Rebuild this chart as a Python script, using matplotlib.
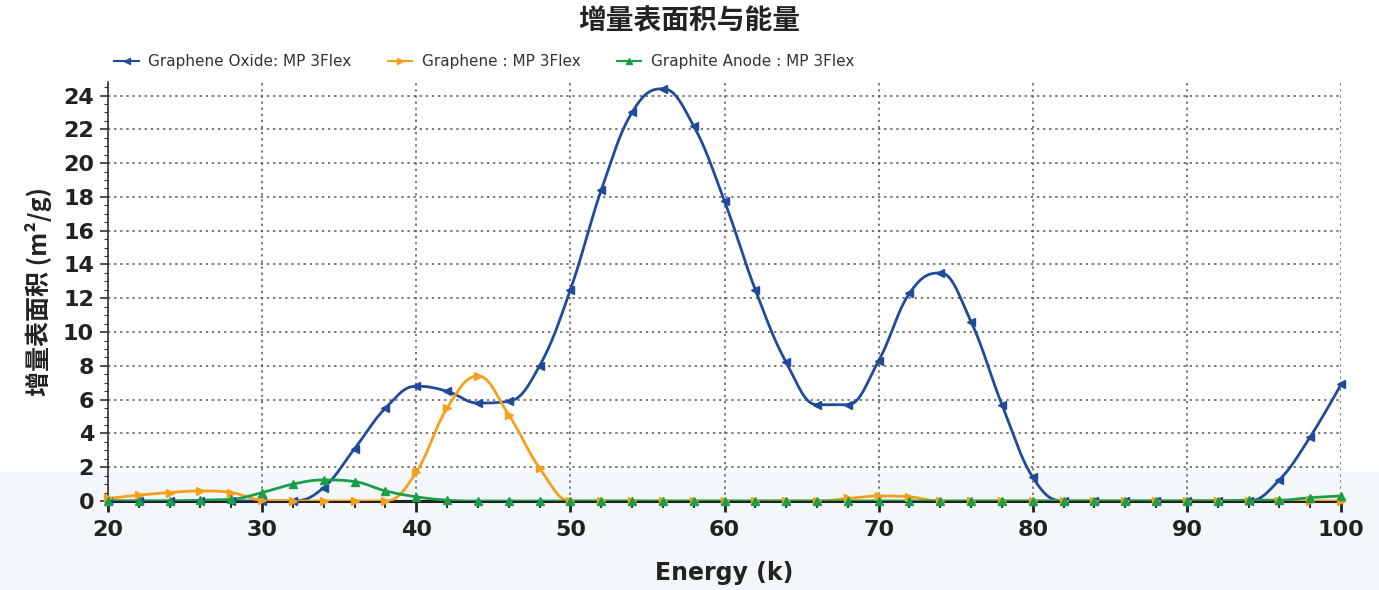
import numpy as np
import matplotlib
matplotlib.use("Agg")
import matplotlib.pyplot as plt
from matplotlib.patches import Rectangle
from matplotlib.ticker import MultipleLocator

plt.rcParams['font.family'] = ['DejaVu Sans', 'Noto Sans CJK SC']

energy = list(range(20, 101, 2))
graphene_oxide = [0, 0, 0, 0, 0, 0, 0, 0.8, 3.1, 5.5, 6.8, 6.5, 5.8, 5.9, 8.0, 12.5,
                  18.4, 23.0, 24.4, 22.2, 17.75, 12.5, 8.2, 5.7, 5.7, 8.3, 12.3, 13.5,
                  10.6, 5.7, 1.4, 0, 0, 0, 0, 0, 0, 0, 1.25, 3.8, 6.9]
graphene = [0.15, 0.35, 0.5, 0.6, 0.5, 0.05, 0, 0, 0, 0, 1.7, 5.5, 7.4, 5.1, 1.95, 0,
            0, 0, 0, 0, 0, 0, 0, 0, 0.15, 0.3, 0.25, 0, 0, 0, 0, 0, 0, 0, 0, 0,
            0, 0, 0, 0, 0]
graphite_anode = [0, 0, 0, 0.05, 0.1, 0.5, 1.0, 1.25, 1.15, 0.6, 0.25, 0.05, 0, 0, 0, 0,
                  0, 0, 0, 0, 0, 0, 0, 0, 0, 0, 0, 0, 0, 0, 0, 0, 0, 0, 0, 0,
                  0, 0.05, 0.05, 0.2, 0.3]
series_names = ["Graphene Oxide: MP 3Flex", "Graphene : MP 3Flex", "Graphite Anode : MP 3Flex"]
title = "增量表面积与能量"
x_label = "Energy (k)"
y_label = "增量表面积 (m²/g)"


def spline_path(xs, ys, n=24):
    """Highcharts-like spline smoothing of a series (display only)."""
    xs = np.asarray(xs, float)
    ys = np.asarray(ys, float)
    m = len(xs)
    lc = np.zeros((m, 2))
    rc = np.zeros((m, 2))
    for i in range(m):
        if i == 0 or i == m - 1:
            lc[i] = rc[i] = (xs[i], ys[i])
            continue
        x0, y0 = xs[i - 1], ys[i - 1]
        x1, y1 = xs[i], ys[i]
        x2, y2 = xs[i + 1], ys[i + 1]
        lx = (1.5 * x1 + x0) / 2.5
        ly = (1.5 * y1 + y0) / 2.5
        rx = (1.5 * x1 + x2) / 2.5
        ry = (1.5 * y1 + y2) / 2.5
        if rx != lx:
            corr = ((ry - ly) * (rx - x1)) / (rx - lx) + y1 - ry
            ly += corr
            ry += corr
        if ly > y0 and ly > y1:
            ly = max(y0, y1)
            ry = 2 * y1 - ly
        elif ly < y0 and ly < y1:
            ly = min(y0, y1)
            ry = 2 * y1 - ly
        if ry > y2 and ry > y1:
            ry = max(y1, y2)
            ly = 2 * y1 - ry
        elif ry < y2 and ry < y1:
            ry = min(y1, y2)
            ly = 2 * y1 - ry
        lc[i] = (lx, ly)
        rc[i] = (rx, ry)
    t = np.linspace(0, 1, n)[:, None]
    pts = []
    for i in range(m - 1):
        p0 = np.array([xs[i], ys[i]])
        p1 = rc[i]
        p2 = lc[i + 1]
        p3 = np.array([xs[i + 1], ys[i + 1]])
        seg = ((1 - t) ** 3) * p0 + 3 * ((1 - t) ** 2) * t * p1 + 3 * (1 - t) * t ** 2 * p2 + t ** 3 * p3
        pts.append(seg if i == 0 else seg[1:])
    pts = np.vstack(pts)
    return pts[:, 0], pts[:, 1]


fig = plt.figure(figsize=(13.79, 5.90), dpi=100)
fig.patch.set_facecolor("white")
fig.add_artist(Rectangle((0, 0), 1, 0.20, transform=fig.transFigure,
                         facecolor="#f3f7fa", edgecolor="none", zorder=-10))

ax = fig.add_axes([0.0783, 0.1508, 0.8942, 0.7102])
ax.patch.set_alpha(0)

colors = ["#1f4b99", "#f5a01a", "#1a9e4a"]
markers = ["<", ">", "^"]
all_series = [graphene_oxide, graphene, graphite_anode]
handles = []
for idx in [1, 2, 0]:
    ys = all_series[idx]
    sx, sy = spline_path(energy, ys)
    ax.plot(sx, sy, color=colors[idx], lw=2, zorder=3 + idx * 0.1, solid_capstyle="round")
    ax.plot(energy, ys, linestyle="none", marker=markers[idx], markersize=5.5,
            color=colors[idx], zorder=4 + idx * 0.1, clip_on=False)

for idx in range(3):
    h, = ax.plot([], [], color=colors[idx], lw=1.5, marker=markers[idx], markersize=5)
    handles.append(h)

ax.set_xlim(20, 100)
ax.set_ylim(0, 24.8)
ax.xaxis.set_major_locator(MultipleLocator(10))
ax.xaxis.set_minor_locator(MultipleLocator(2))
ax.yaxis.set_major_locator(MultipleLocator(2))
ax.yaxis.set_minor_locator(MultipleLocator(0.5))

ax.grid(True, which="major", axis="both", color="#555555", linestyle=(0, (1.5, 2.5)), lw=1.1)
for sp in ["top", "right"]:
    ax.spines[sp].set_visible(False)
ax.spines["bottom"].set_color("#222222")
ax.spines["bottom"].set_linewidth(2.2)
ax.spines["bottom"].set_zorder(2.5)
ax.spines["left"].set_color("#333333")
ax.spines["left"].set_linewidth(1.2)

ax.tick_params(axis="x", which="major", direction="out", length=8, width=2, color="#222222",
               labelsize=16, pad=6)
ax.tick_params(axis="x", which="minor", direction="out", length=5, width=1.5, color="#333333")
ax.tick_params(axis="y", which="major", direction="out", length=6, width=1.2, color="#333333",
               labelsize=16, pad=4)
ax.tick_params(axis="y", which="minor", direction="out", length=3, width=0.8, color="#333333")
for lab in ax.get_xticklabels() + ax.get_yticklabels():
    lab.set_fontweight("bold")
    lab.set_color("#222222")

ax.set_xlabel(x_label, fontsize=17, fontweight="bold", color="#222222", labelpad=15)
ax.set_ylabel(y_label, fontsize=18, fontweight="bold", color="#222222", labelpad=8,
              family=['Noto Sans CJK SC', 'DejaVu Sans'])

fig.text(0.5, 0.963, title, ha="center", va="center", fontsize=20, fontweight="bold",
         color="#222222", family=['Noto Sans CJK SC', 'DejaVu Sans'])

leg = fig.legend(handles, series_names, loc="center left", bbox_to_anchor=(0.073, 0.895),
                 ncol=3, frameon=False, fontsize=11, handlelength=1.6, handletextpad=0.6,
                 columnspacing=2.4, labelcolor="#333333")

fig.savefig("out.png", dpi=100, facecolor="white")
